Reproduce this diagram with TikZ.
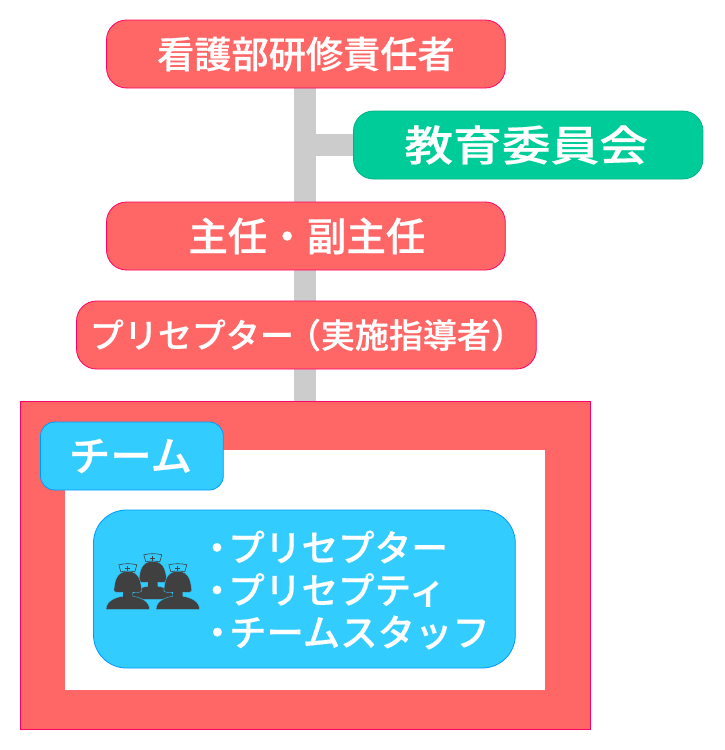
\documentclass[tikz,border=0pt]{standalone}
\usepackage{fontspec}
\usetikzlibrary{backgrounds}
\newfontfamily\jpfont[FakeBold=0.5]{Noto Sans CJK JP Medium}
\definecolor{rd}{HTML}{FF6666}
\definecolor{rdl}{HTML}{FF0066}
\definecolor{gn}{HTML}{00CC99}
\definecolor{gnl}{HTML}{00B386}
\definecolor{bl}{HTML}{33CCFF}
\definecolor{bll}{HTML}{0099FF}
\definecolor{gy}{HTML}{CCCCCC}
\definecolor{dk}{HTML}{404040}
\tikzset{
 x=1pt,y=-1pt,
 boxbase/.style={draw,line width=0.8pt,inner sep=0pt,text=white,font=\jpfont},
 redbox/.style={boxbase,fill=rd,draw=rdl,rounded corners=20pt},
 greenbox/.style={boxbase,fill=gn,draw=gnl,rounded corners=20pt},
 bluebox/.style={boxbase,fill=bl,draw=bll},
 link/.style={draw=gy,line width=22pt},
 nursebody/.style={fill=dk,draw=bl,line width=0.35pt},
 pics/nurse/.style={code={
   \path[nursebody] (-21.7,41) .. controls (-21.7,33) and (-13,29) .. (-5,28) -- (-5,24)
     .. controls (-10,24.5) and (-14,24) .. (-14,22) .. controls (-13,17) and (-13.5,3) .. (0,3)
     .. controls (13.5,3) and (13,17) .. (14,22) .. controls (14,24) and (10,24.5) .. (5,24)
     -- (5,28) .. controls (13,29) and (21.7,33) .. (21.7,41) -- cycle;
   \path[fill=bl,draw=dk,line width=0.6pt] (-9,-3.5) .. controls (-3,-5) and (3,-5) .. (9,-3.5)
     -- (7,3.5) .. controls (3,2.5) and (-3,2.5) .. (-7,3.5) -- cycle;
   \draw[dk,line width=0.8pt] (-2.5,0) -- (2.5,0) (0,-2.5) -- (0,2.5);
 }}
}
\begin{document}
\begin{tikzpicture}
\useasboundingbox (0.5,0) rectangle (725.5,750);
\node[redbox,minimum width=398.8pt,minimum height=68pt] (head) at (306.4,54) {\fontsize{37.2}{37}\selectfont 看護部研修責任者};
\node[greenbox,minimum width=349.5pt,minimum height=68pt] (edu) at (528.7,145) {\fontsize{42}{42}\selectfont\kern-4pt\scalebox{1.16}[1]{教育委員会}};
\node[redbox,minimum width=398.8pt,minimum height=68pt] (chief) at (306.4,236) {\fontsize{39.5}{39}\selectfont\kern2pt 主任・副主任};
\node[redbox,minimum width=459.8pt,minimum height=68pt] (pre) at (306.9,335) {\fontsize{34}{34}\selectfont\kern2pt プリセプター\kern-7pt（実施指導者）};
\node[draw=rdl,fill=rd,line width=0.8pt,inner sep=0pt,minimum width=570pt,minimum height=328pt] (team) at (305.5,565) {};
\node[fill=white,inner sep=0pt,minimum width=480pt,minimum height=240pt] (inner) at (305,570) {};
\node[bluebox,rounded corners=14pt,minimum width=182.8pt,minimum height=68pt] (label) at (132.4,456) {\fontsize{41.5}{41}\selectfont\kern-3pt チーム};
\node[bluebox,rounded corners=33pt,minimum width=421.8pt,minimum height=158pt] (list) at (304.9,589) {};
\node[text=white,font={\jpfont\fontsize{36.6}{42.5}\selectfont},inner sep=0pt,anchor=west,align=left] (items) at (199,590)
 {・\kern-7pt プリセプター\\・\kern-7pt プリセプティ\\\fontsize{37.4}{42.5}\selectfont ・\kern-7pt チームスタッフ};
\pic at (153.3,558.3) {nurse};
\pic at (128.3,568.3) {nurse};
\pic at (178.3,568.3) {nurse};
\begin{scope}[on background layer]
\draw[link] (team.north |- head.south) -- (team.north);
\draw[link] (team.north |- edu.west) -- (edu.west);
\end{scope}
\end{tikzpicture}
\end{document}
